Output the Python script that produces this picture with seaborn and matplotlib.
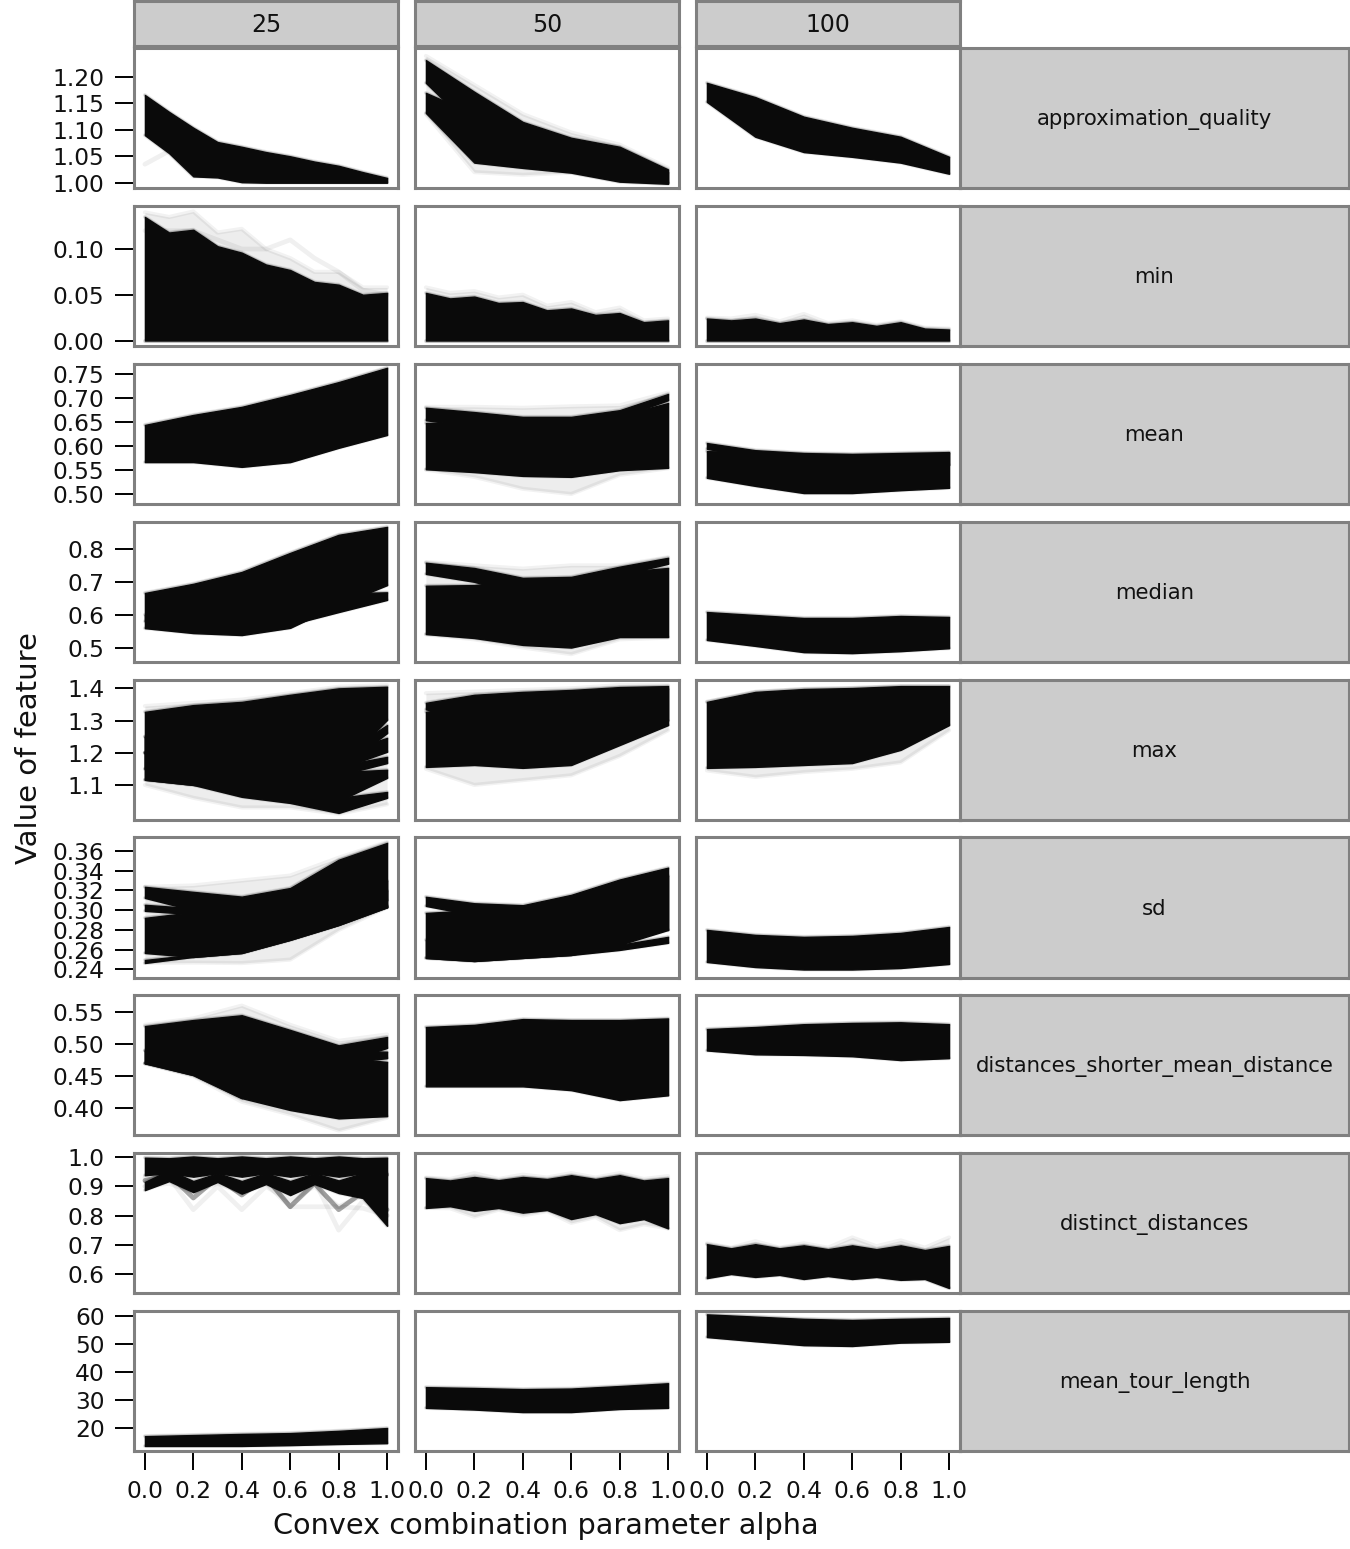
import pandas as pd
import matplotlib
matplotlib.use('Agg')
import matplotlib.pyplot as plt
import seaborn as sb

features = ['approximation_quality', 'min', 'mean', 'median', 'max', 'sd',
            'distances_shorter_mean_distance', 'distinct_distances', 'mean_tour_length']
sizes = [25, 50, 100]
alpha6 = [0.0, 0.2, 0.4, 0.6, 0.8, 1.0]
alpha11 = [0.0, 0.1, 0.2, 0.3, 0.4, 0.5, 0.6, 0.7, 0.8, 0.9, 1.0]
xtick_labels = ['0.0', '0.2', '0.4', '0.6', '0.8', '1.0']

yticks = {
    'approximation_quality': ['1.00', '1.05', '1.10', '1.15', '1.20'],
    'min': ['0.00', '0.05', '0.10'],
    'mean': ['0.50', '0.55', '0.60', '0.65', '0.70', '0.75'],
    'median': ['0.5', '0.6', '0.7', '0.8'],
    'max': ['1.1', '1.2', '1.3', '1.4'],
    'sd': ['0.24', '0.26', '0.28', '0.30', '0.32', '0.34', '0.36'],
    'distances_shorter_mean_distance': ['0.40', '0.45', '0.50', '0.55'],
    'distinct_distances': ['0.6', '0.7', '0.8', '0.9', '1.0'],
    'mean_tour_length': ['20', '30', '40', '50', '60'],
}
ylims = {
    'approximation_quality': (0.99, 1.255),
    'min': (-0.006, 0.147),
    'mean': (0.478, 0.772),
    'median': (0.456, 0.882),
    'max': (0.991, 1.426),
    'sd': (0.2314, 0.374),
    'distances_shorter_mean_distance': (0.358, 0.5766),
    'distinct_distances': (0.535, 1.014),
    'mean_tour_length': (11.8, 61.8),
}

# approximation_quality
aq25_hi = [1.166, 1.134, 1.104, 1.077, 1.068, 1.058, 1.050, 1.040, 1.032, 1.020, 1.009]
aq25_lo = [1.090, 1.056, 1.012, 1.010, 1.001, 1.000, 1.000, 1.000, 1.000, 1.000, 1.000]
aq50a_hi = [1.232, 1.172, 1.115, 1.085, 1.068, 1.025]
aq50a_lo = [1.189, 1.100, 1.060, 1.050, 1.020, 1.000]
aq50b_hi = [1.170, 1.130, 1.090, 1.070, 1.050, 1.020]
aq50b_lo = [1.132, 1.038, 1.028, 1.019, 1.002, 0.998]
aq100_hi = [1.189, 1.162, 1.125, 1.104, 1.087, 1.049]
aq100_lo = [1.153, 1.087, 1.058, 1.049, 1.038, 1.017]
# min
mn25_hi = [0.135, 0.118, 0.121, 0.103, 0.096, 0.083, 0.077, 0.064, 0.061, 0.050, 0.052]
mn50_hi = [0.052, 0.046, 0.048, 0.041, 0.042, 0.033, 0.035, 0.028, 0.030, 0.020, 0.022]
mn100_hi = [0.024, 0.022, 0.024, 0.019, 0.023, 0.018, 0.020, 0.016, 0.020, 0.013, 0.012]
mn_lo = [0.0, 0.0, 0.0, 0.0, 0.0, 0.0, 0.0, 0.0, 0.0, 0.0, 0.0]
# mean
me25_hi = [0.644, 0.665, 0.682, 0.707, 0.734, 0.764]
me25_lo = [0.566, 0.566, 0.556, 0.566, 0.596, 0.623]
me50a_hi = [0.680, 0.671, 0.661, 0.661, 0.675, 0.709]
me50a_lo = [0.654, 0.640, 0.620, 0.620, 0.660, 0.696]
me50b_hi = [0.648, 0.650, 0.655, 0.655, 0.664, 0.690]
me50b_lo = [0.551, 0.545, 0.537, 0.535, 0.549, 0.554]
me100a_hi = [0.606, 0.591, 0.585, 0.583, 0.585, 0.587]
me100a_lo = [0.594, 0.575, 0.560, 0.560, 0.560, 0.560]
me100b_hi = [0.589, 0.587, 0.583, 0.581, 0.583, 0.585]
me100b_lo = [0.533, 0.516, 0.501, 0.501, 0.507, 0.512]
# median
md25a_hi = [0.666, 0.694, 0.730, 0.788, 0.843, 0.867]
md25a_lo = [0.559, 0.544, 0.538, 0.560, 0.630, 0.690]
md25b_hi = [0.600, 0.600, 0.600, 0.620, 0.665, 0.668]
md25b_lo = [0.580, 0.560, 0.550, 0.570, 0.608, 0.645]
md50a_hi = [0.758, 0.742, 0.712, 0.715, 0.746, 0.773]
md50a_lo = [0.724, 0.700, 0.660, 0.640, 0.720, 0.755]
md50b_hi = [0.688, 0.690, 0.705, 0.710, 0.730, 0.742]
md50b_lo = [0.541, 0.529, 0.508, 0.500, 0.532, 0.532]
md100_hi = [0.608, 0.599, 0.590, 0.590, 0.596, 0.593]
md100_lo = [0.523, 0.505, 0.486, 0.483, 0.489, 0.498]
# max
mx25a_hi = [1.327, 1.348, 1.358, 1.380, 1.400, 1.405]
mx25a_lo = [1.116, 1.100, 1.090, 1.100, 1.150, 1.302]
mx25b_hi = [1.250, 1.250, 1.250, 1.250, 1.190, 1.286]
mx25b_lo = [1.200, 1.200, 1.200, 1.200, 1.150, 1.261]
mx25c_hi = [1.250, 1.250, 1.250, 1.250, 1.200, 1.246]
mx25c_lo = [1.200, 1.200, 1.200, 1.200, 1.150, 1.203]
mx25d_hi = [1.200, 1.200, 1.200, 1.200, 1.160, 1.187]
mx25d_lo = [1.150, 1.150, 1.150, 1.150, 1.130, 1.168]
mx25e_hi = [1.200, 1.200, 1.180, 1.160, 1.140, 1.147]
mx25e_lo = [1.150, 1.120, 1.110, 1.090, 1.050, 1.122]
mx25f_hi = [1.200, 1.200, 1.150, 1.100, 1.060, 1.078]
mx25f_lo = [1.116, 1.100, 1.063, 1.044, 1.013, 1.060]
mx50a_hi = [1.355, 1.380, 1.389, 1.395, 1.404, 1.407]
mx50a_lo = [1.335, 1.300, 1.300, 1.300, 1.300, 1.300]
mx50b_hi = [1.327, 1.350, 1.360, 1.380, 1.390, 1.400]
mx50b_lo = [1.156, 1.162, 1.153, 1.162, 1.224, 1.286]
mx100_hi = [1.358, 1.389, 1.398, 1.401, 1.407, 1.407]
mx100_lo = [1.153, 1.156, 1.162, 1.168, 1.209, 1.286]
# sd
sd25a_hi = [0.3236, 0.3185, 0.3137, 0.3224, 0.351, 0.368]
sd25a_lo = [0.3124, 0.300, 0.280, 0.280, 0.290, 0.303]
sd25b_hi = [0.3054, 0.302, 0.300, 0.300, 0.310, 0.320]
sd25b_lo = [0.2993, 0.296, 0.290, 0.290, 0.300, 0.310]
sd25c_hi = [0.2922, 0.298, 0.305, 0.310, 0.320, 0.330]
sd25c_lo = [0.2567, 0.2527, 0.2567, 0.270, 0.285, 0.303]
sd25d_hi = [0.2496, 0.255, 0.260, 0.275, 0.290, 0.305]
sd25d_lo = [0.2466, 0.2527, 0.2567, 0.270, 0.285, 0.303]
sd50a_hi = [0.3135, 0.307, 0.305, 0.3155, 0.331, 0.343]
sd50a_lo = [0.3043, 0.295, 0.290, 0.290, 0.300, 0.280]
sd50b_hi = [0.2972, 0.300, 0.300, 0.310, 0.325, 0.335]
sd50b_lo = [0.2517, 0.2486, 0.2517, 0.2547, 0.2650, 0.2800]
sd50c_hi = [0.2700, 0.2700, 0.2700, 0.2700, 0.2650, 0.2730]
sd50c_lo = [0.2517, 0.2486, 0.2517, 0.2547, 0.2598, 0.2670]
sd100_hi = [0.280, 0.275, 0.273, 0.274, 0.277, 0.283]
sd100_lo = [0.2476, 0.2425, 0.240, 0.240, 0.2415, 0.2456]
# distances_shorter_mean_distance
ds25a_hi = [0.528, 0.5375, 0.545, 0.522, 0.498, 0.511]
ds25a_lo = [0.470, 0.4516, 0.4156, 0.450, 0.470, 0.494]
ds25b_hi = [0.490, 0.490, 0.490, 0.490, 0.490, 0.488]
ds25b_lo = [0.470, 0.460, 0.450, 0.450, 0.470, 0.478]
ds25c_hi = [0.490, 0.490, 0.490, 0.480, 0.480, 0.472]
ds25c_lo = [0.470, 0.4516, 0.4156, 0.397, 0.384, 0.3875]
ds50_hi = [0.5266, 0.530, 0.539, 0.5375, 0.5375, 0.540]
ds50_lo = [0.434, 0.434, 0.434, 0.428, 0.4125, 0.420]
ds100_hi = [0.5234, 0.5266, 0.531, 0.533, 0.534, 0.531]
ds100_lo = [0.490, 0.484, 0.483, 0.481, 0.475, 0.478]
# distinct_distances
dd25a_hi = [0.998, 0.996, 1.002, 0.996, 1.002, 0.996, 1.002, 0.996, 1.002, 0.996, 0.998]
dd25a_lo = [0.938, 0.945, 0.933, 0.945, 0.933, 0.945, 0.933, 0.945, 0.933, 0.945, 0.938]
dd25b_hi = [0.915, 0.955, 0.918, 0.945, 0.918, 0.945, 0.918, 0.945, 0.920, 0.945, 0.945]
dd25b_lo = [0.887, 0.918, 0.880, 0.915, 0.875, 0.908, 0.870, 0.908, 0.877, 0.860, 0.765]
dd50_hi = [0.928, 0.920, 0.932, 0.921, 0.932, 0.925, 0.938, 0.925, 0.938, 0.920, 0.928]
dd50_lo = [0.826, 0.832, 0.816, 0.826, 0.810, 0.819, 0.788, 0.805, 0.774, 0.788, 0.756]
dd100_hi = [0.702, 0.688, 0.702, 0.688, 0.698, 0.685, 0.698, 0.685, 0.698, 0.682, 0.696]
dd100_lo = [0.586, 0.600, 0.590, 0.597, 0.583, 0.593, 0.583, 0.590, 0.580, 0.583, 0.552]
# mean_tour_length
tl25_hi = [17.1, 17.5, 17.9, 18.2, 19.0, 20.0]
tl25_lo = [13.6, 13.6, 13.6, 13.9, 14.3, 14.6]
tl50_hi = [34.6, 34.3, 33.9, 34.1, 35.0, 36.0]
tl50_lo = [27.2, 26.6, 25.7, 25.7, 26.8, 27.2]
tl100_hi = [60.6, 59.8, 59.0, 58.6, 59.0, 59.3]
tl100_lo = [52.5, 51.0, 49.6, 49.3, 50.5, 50.8]

# faint outer edge of the bundles
aq50_soft_hi = [1.240, 1.185, 1.130, 1.095, 1.072, 1.028]
aq50_soft_lo = [1.130, 1.020, 1.015, 1.019, 1.002, 0.998]
mn25_soft_hi = [0.140, 0.135, 0.141, 0.118, 0.122, 0.100, 0.090, 0.075, 0.075, 0.058, 0.058]
mn50_soft_hi = [0.058, 0.052, 0.054, 0.047, 0.050, 0.038, 0.042, 0.031, 0.036, 0.022, 0.024]
mn100_soft_hi = [0.025, 0.024, 0.028, 0.021, 0.029, 0.019, 0.022, 0.017, 0.021, 0.014, 0.013]
me50_soft_hi = [0.682, 0.682, 0.680, 0.683, 0.685, 0.712]
me50_soft_lo = [0.550, 0.535, 0.510, 0.499, 0.539, 0.553]
md50_soft_hi = [0.760, 0.750, 0.740, 0.750, 0.750, 0.775]
md50_soft_lo = [0.540, 0.525, 0.500, 0.480, 0.525, 0.530]
mx25_soft_hi = [1.345, 1.355, 1.365, 1.385, 1.405, 1.410]
mx25_soft_lo = [1.100, 1.060, 1.030, 1.030, 1.010, 1.040]
mx50_soft_hi = [1.385, 1.390, 1.395, 1.400, 1.410, 1.410]
mx50_soft_lo = [1.150, 1.100, 1.115, 1.130, 1.190, 1.270]
mx100_soft_lo = [1.145, 1.125, 1.140, 1.150, 1.170, 1.270]
sd25_soft_hi = [0.3236, 0.325, 0.330, 0.335, 0.353, 0.369]
sd25_soft_lo = [0.2466, 0.247, 0.2465, 0.250, 0.280, 0.303]
ds25_soft_hi = [0.530, 0.540, 0.560, 0.530, 0.505, 0.515]
ds25_soft_lo = [0.470, 0.450, 0.410, 0.390, 0.365, 0.385]
dd50_soft_hi = [0.930, 0.925, 0.945, 0.925, 0.940, 0.930, 0.945, 0.930, 0.945, 0.925, 0.935]
dd50_soft_lo = [0.826, 0.825, 0.796, 0.820, 0.800, 0.815, 0.775, 0.795, 0.750, 0.770, 0.756]
dd100_soft_hi = [0.705, 0.690, 0.712, 0.690, 0.705, 0.690, 0.725, 0.695, 0.715, 0.690, 0.725]

# single stray runs
aq25_stray = [1.035, 1.060, 1.085, 1.070, 1.060, 1.050, 1.040, 1.030, 1.020, 1.010, 1.005]
mn25_stray = [0.120, 0.120, 0.120, 0.110, 0.100, 0.100, 0.110, 0.090, 0.075, 0.055, 0.050]
dd25_stray1 = [0.900, 0.930, 0.820, 0.900, 0.820, 0.900, 0.850, 0.900, 0.830, 0.870, 0.800]
dd25_stray2 = [0.900, 0.910, 0.880, 0.910, 0.880, 0.910, 0.830, 0.830, 0.830, 0.825, 0.800]
dd25_stray3 = [0.930, 0.930, 0.900, 0.930, 0.900, 0.930, 0.830, 0.920, 0.750, 0.850, 0.800]
dd25_stray4 = [0.920, 0.940, 0.860, 0.930, 0.870, 0.930, 0.830, 0.910, 0.820, 0.880, 0.820]

core = [
    ('approximation_quality', 25, aq25_lo, aq25_hi),
    ('approximation_quality', 50, aq50a_lo, aq50a_hi),
    ('approximation_quality', 50, aq50b_lo, aq50b_hi),
    ('approximation_quality', 100, aq100_lo, aq100_hi),
    ('min', 25, mn_lo, mn25_hi), ('min', 50, mn_lo, mn50_hi), ('min', 100, mn_lo, mn100_hi),
    ('mean', 25, me25_lo, me25_hi),
    ('mean', 50, me50a_lo, me50a_hi), ('mean', 50, me50b_lo, me50b_hi),
    ('mean', 100, me100a_lo, me100a_hi), ('mean', 100, me100b_lo, me100b_hi),
    ('median', 25, md25a_lo, md25a_hi), ('median', 25, md25b_lo, md25b_hi),
    ('median', 50, md50a_lo, md50a_hi), ('median', 50, md50b_lo, md50b_hi),
    ('median', 100, md100_lo, md100_hi),
    ('max', 25, mx25a_lo, mx25a_hi), ('max', 25, mx25b_lo, mx25b_hi), ('max', 25, mx25c_lo, mx25c_hi),
    ('max', 25, mx25d_lo, mx25d_hi), ('max', 25, mx25e_lo, mx25e_hi), ('max', 25, mx25f_lo, mx25f_hi),
    ('max', 50, mx50a_lo, mx50a_hi), ('max', 50, mx50b_lo, mx50b_hi),
    ('max', 100, mx100_lo, mx100_hi),
    ('sd', 25, sd25a_lo, sd25a_hi), ('sd', 25, sd25b_lo, sd25b_hi),
    ('sd', 25, sd25c_lo, sd25c_hi), ('sd', 25, sd25d_lo, sd25d_hi),
    ('sd', 50, sd50a_lo, sd50a_hi), ('sd', 50, sd50b_lo, sd50b_hi), ('sd', 50, sd50c_lo, sd50c_hi),
    ('sd', 100, sd100_lo, sd100_hi),
    ('distances_shorter_mean_distance', 25, ds25a_lo, ds25a_hi),
    ('distances_shorter_mean_distance', 25, ds25b_lo, ds25b_hi),
    ('distances_shorter_mean_distance', 25, ds25c_lo, ds25c_hi),
    ('distances_shorter_mean_distance', 50, ds50_lo, ds50_hi),
    ('distances_shorter_mean_distance', 100, ds100_lo, ds100_hi),
    ('distinct_distances', 25, dd25a_lo, dd25a_hi), ('distinct_distances', 25, dd25b_lo, dd25b_hi),
    ('distinct_distances', 50, dd50_lo, dd50_hi), ('distinct_distances', 100, dd100_lo, dd100_hi),
    ('mean_tour_length', 25, tl25_lo, tl25_hi), ('mean_tour_length', 50, tl50_lo, tl50_hi),
    ('mean_tour_length', 100, tl100_lo, tl100_hi),
]
soft = [
    ('approximation_quality', 50, aq50_soft_lo, aq50_soft_hi),
    ('min', 25, mn_lo, mn25_soft_hi), ('min', 50, mn_lo, mn50_soft_hi), ('min', 100, mn_lo, mn100_soft_hi),
    ('mean', 50, me50_soft_lo, me50_soft_hi),
    ('median', 50, md50_soft_lo, md50_soft_hi),
    ('max', 25, mx25_soft_lo, mx25_soft_hi),
    ('max', 50, mx50_soft_lo, mx50_soft_hi),
    ('max', 100, mx100_soft_lo, mx100_hi),
    ('sd', 25, sd25_soft_lo, sd25_soft_hi),
    ('distances_shorter_mean_distance', 25, ds25_soft_lo, ds25_soft_hi),
    ('distinct_distances', 50, dd50_soft_lo, dd50_soft_hi),
    ('distinct_distances', 100, dd100_lo, dd100_soft_hi),
]
stray = [
    ('approximation_quality', 25, aq25_stray, 0.06),
    ('min', 25, mn25_stray, 0.06),
    ('distinct_distances', 25, dd25_stray1, 0.06),
    ('distinct_distances', 25, dd25_stray2, 0.06),
    ('distinct_distances', 25, dd25_stray3, 0.06),
    ('distinct_distances', 25, dd25_stray4, 0.35),
]

ink = '#0A0A0A'
edge = '#808080'
strip = '#CCCCCC'
W, H = 1350, 1549
col_px = [(134, 398), (415, 679), (696, 960)]
row_px = [(48, 188), (206, 346), (364, 504), (522, 662), (680, 820),
          (837, 978), (995, 1135), (1153, 1293), (1311, 1451)]


def xs_for(vals):
    return alpha6 if len(vals) == 6 else alpha11


def place(ax, x0, y0, x1, y1):
    ax.set_position([x0 / W, 1 - y1 / H, (x1 - x0) / W, (y1 - y0) / H])


def run(ax, vals, a, width):
    sb.lineplot(x=xs_for(vals), y=vals, ax=ax, color='black', alpha=a, lw=width,
                estimator=None, errorbar=None, legend=False, zorder=1.5)


def strip_box(x0, y0, x1, y1, label, size, ty):
    ax = fig.add_axes([x0 / W, 1 - y1 / H, (x1 - x0) / W, (y1 - y0) / H])
    ax.set_facecolor(strip)
    ax.set_xticks([])
    ax.set_yticks([])
    for sp in ax.spines.values():
        sp.set_color(edge)
        sp.set_linewidth(2.2)
    ax.text(0.5, ty, label, transform=ax.transAxes, ha='center', va='center',
            fontsize=size, color='#111111')


sb.set_theme(style='white')
plt.rcParams['font.family'] = ['DejaVu Sans']

table = pd.DataFrame([(f, s) for f in features for s in sizes], columns=['feature', 'size'])
g = sb.FacetGrid(table, row='feature', col='size', row_order=features, col_order=sizes,
                 sharex=True, sharey='row', height=1.5, aspect=1.9, despine=False)
g.set_titles('')
fig = g.figure
fig.set_size_inches(W / 100, H / 100)
fig.set_facecolor('white')

for i, f in enumerate(features):
    for j, s in enumerate(sizes):
        ax = g.axes[i, j]
        place(ax, col_px[j][0], row_px[i][0], col_px[j][1], row_px[i][1])
        ax.set_facecolor('white')
        for name, n, lo, hi in soft:
            if name == f and n == s:
                ax.fill_between(xs_for(lo), lo, hi, color='black', alpha=0.07, lw=0)
                run(ax, hi, 0.05, 3)
                run(ax, lo, 0.05, 3)
        for name, n, vals, a in stray:
            if name == f and n == s:
                run(ax, vals, a, 3.4)
        for name, n, lo, hi in core:
            if name == f and n == s:
                # blurred rim like overlapping thin runs, kept under the solid fill
                run(ax, hi, 0.08, 3)
                run(ax, lo, 0.08, 3)
                run(ax, hi, 0.18, 1.8)
                run(ax, lo, 0.18, 1.8)
                ax.fill_between(xs_for(lo), lo, hi, color=ink, lw=1.0, zorder=3)
        ax.set_xlim(-0.045, 1.045)
        ax.set_ylim(*ylims[f])
        ax.set_xlabel('')
        ax.set_ylabel('')
        ax.set_xticks(alpha6)
        ax.set_xticklabels(xtick_labels)
        ax.set_yticks([float(t) for t in yticks[f]])
        ax.set_yticklabels(yticks[f])
        ax.tick_params(axis='both', length=13.7, width=1.4, color='black', pad=7.5,
                       labelsize=16.8, labelcolor='#111111',
                       left=(j == 0), labelleft=(j == 0),
                       bottom=(i == len(features) - 1), labelbottom=(i == len(features) - 1))
        for sp in ax.spines.values():
            sp.set_color(edge)
            sp.set_linewidth(2.2)
            sp.set_visible(True)

for j, s in enumerate(sizes):
    strip_box(col_px[j][0], 1, col_px[j][1], 46, str(s), 17, 0.46)
for i, f in enumerate(features):
    strip_box(960, row_px[i][0], 1349, row_px[i][1], f, 15.3, 0.49)

fig.text(546 / W, 1 - 1526 / H, 'Convex combination parameter alpha', ha='center', va='center',
         fontsize=20.7, color='#111111')
fig.text(29 / W, 1 - 748 / H, 'Value of feature', ha='center', va='center', rotation=90,
         fontsize=21, color='#111111')

fig.savefig('out.png', dpi=100, facecolor='white')
